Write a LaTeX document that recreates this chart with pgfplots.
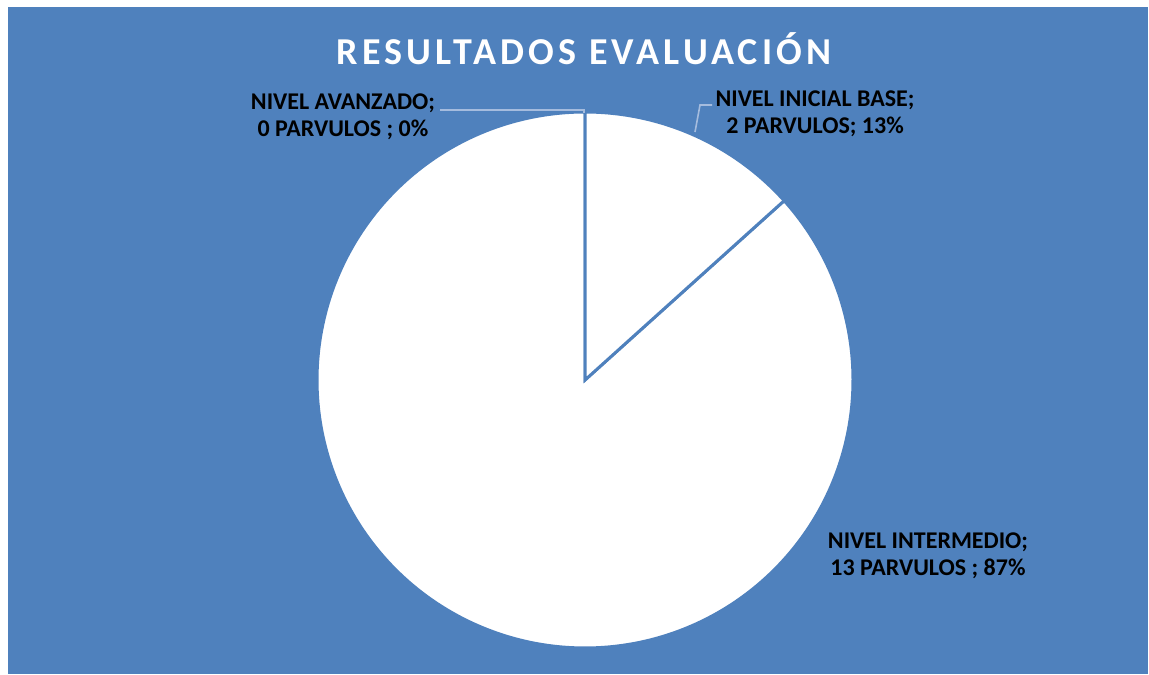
\documentclass[border=0pt]{standalone}
\usepackage{pgfplots}
\pgfplotsset{compat=1.18}
\usepackage{pgfplotstable}
\usepackage{fontspec}
\setmainfont{Carlito}
\definecolor{bgblue}{RGB}{79,129,189}
\definecolor{leader}{RGB}{165,188,222}
\pgfplotstableread{
nivel count
Avanzado 0
Inicial 2
Intermedio 13
}\datatable
\begin{document}
\begin{tikzpicture}[x=0.5pt,y=0.5pt]
\fill[white] (0,0) rectangle (1149,674);
\fill[bgblue] (8,0) rectangle (1148,667);
\pgfplotstablegetelem{0}{count}\of\datatable \let\va\pgfplotsretval
\pgfplotstablegetelem{1}{count}\of\datatable \let\vb\pgfplotsretval
\pgfplotstablegetelem{2}{count}\of\datatable \let\vc\pgfplotsretval
\pgfmathsetmacro{\tot}{\va+\vb+\vc}
\pgfmathsetmacro{\aA}{90-360*\va/\tot}
\pgfmathsetmacro{\aB}{\aA-360*\vb/\tot}
\pgfmathsetmacro{\aC}{\aB-360*\vc/\tot}
\begin{axis}[at={(292.5pt,147pt)}, anchor=center, width=268pt, height=268pt,
  scale only axis, xmin=-1, xmax=1, ymin=-1, ymax=1, hide axis, clip=false]
\addplot[data cs=polar, draw=bgblue, line width=1.5pt, fill=white, domain=\aC:\aB, samples=300, line join=miter] {1} -- (axis cs:0,0) -- cycle;
\addplot[data cs=polar, draw=bgblue, line width=1.5pt, fill=white, domain=\aB:\aA, samples=60, line join=miter] {1} -- (axis cs:0,0) -- cycle;
\end{axis}
\draw[leader, line width=0.8pt] (440,564) -- (584,564) -- (584,561);
\draw[leader, line width=0.8pt] (712,569) -- (700,569) -- (695,542);
\node[text=white, font=\fontsize{19}{22}\selectfont\bfseries\addfontfeatures{LetterSpace=11}, anchor=base] at (584,609) {RESULTADOS EVALUACIÓN};
\node[align=center, font=\fontsize{12}{13.5}\selectfont\bfseries] at (343,557) {NIVEL AVANZADO;\\0 PARVULOS ; 0\%};
\node[align=center, font=\fontsize{12}{13.5}\selectfont\bfseries] at (815,560) {NIVEL INICIAL BASE;\\2 PARVULOS; 13\%};
\node[align=center, font=\fontsize{12}{13.5}\selectfont\bfseries] at (928,118) {NIVEL INTERMEDIO;\\13 PARVULOS ; 87\%};
\end{tikzpicture}
\end{document}
